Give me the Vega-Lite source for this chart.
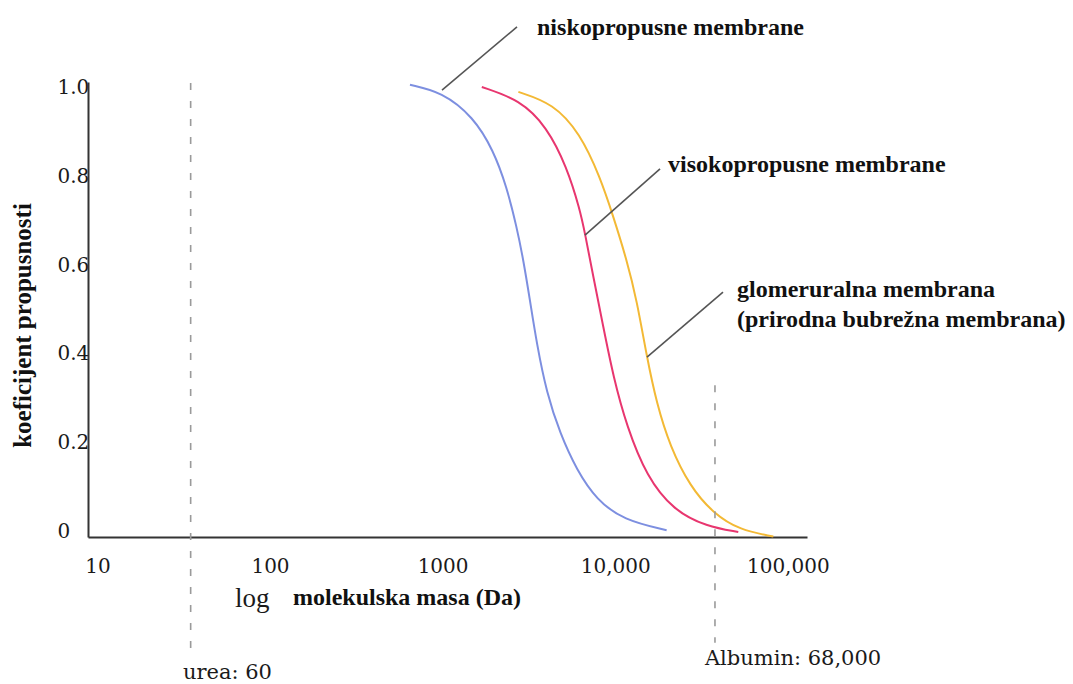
{
  "$schema": "https://vega.github.io/schema/vega-lite/v6.json",
  "width": 719,
  "height": 455,
  "autosize": {"type": "none"},
  "padding": {"left": 88, "top": 82, "right": 266, "bottom": 147},
  "background": "white",
  "config": {
    "view": {"stroke": null},
    "axis": {
      "grid": false,
      "ticks": false,
      "tickSize": 0,
      "domainColor": "#333333",
      "domainWidth": 2,
      "labelFont": "DejaVu Serif",
      "labelFontSize": 20,
      "labelColor": "#1a1a1a"
    }
  },
  "datasets": {
    "curves": [
      {"series": "nisko", "mass": 647, "k": 1.005},
      {"series": "nisko", "mass": 989, "k": 0.989},
      {"series": "nisko", "mass": 1507, "k": 0.933},
      {"series": "nisko", "mass": 1968, "k": 0.858},
      {"series": "nisko", "mass": 2350, "k": 0.776},
      {"series": "nisko", "mass": 2685, "k": 0.686},
      {"series": "nisko", "mass": 2938, "k": 0.611},
      {"series": "nisko", "mass": 3206, "k": 0.521},
      {"series": "nisko", "mass": 3508, "k": 0.424},
      {"series": "nisko", "mass": 4009, "k": 0.312},
      {"series": "nisko", "mass": 4786, "k": 0.222},
      {"series": "nisko", "mass": 5984, "k": 0.139},
      {"series": "nisko", "mass": 7816, "k": 0.072},
      {"series": "nisko", "mass": 11143, "k": 0.027},
      {"series": "nisko", "mass": 19861, "k": 0.004},
      {"series": "visoko", "mass": 1687, "k": 1.0},
      {"series": "visoko", "mass": 2805, "k": 0.971},
      {"series": "visoko", "mass": 4009, "k": 0.911},
      {"series": "visoko", "mass": 5236, "k": 0.821},
      {"series": "visoko", "mass": 6252, "k": 0.724},
      {"series": "visoko", "mass": 6683, "k": 0.671},
      {"series": "visoko", "mass": 7464, "k": 0.574},
      {"series": "visoko", "mass": 8531, "k": 0.461},
      {"series": "visoko", "mass": 9750, "k": 0.349},
      {"series": "visoko", "mass": 11669, "k": 0.237},
      {"series": "visoko", "mass": 15241, "k": 0.124},
      {"series": "visoko", "mass": 21727, "k": 0.049},
      {"series": "visoko", "mass": 33884, "k": 0.012},
      {"series": "visoko", "mass": 51642, "k": 0.0},
      {"series": "glomerul", "mass": 2748, "k": 0.989},
      {"series": "glomerul", "mass": 4375, "k": 0.963},
      {"series": "glomerul", "mass": 6252, "k": 0.896},
      {"series": "glomerul", "mass": 8166, "k": 0.798},
      {"series": "glomerul", "mass": 9750, "k": 0.709},
      {"series": "glomerul", "mass": 11669, "k": 0.611},
      {"series": "glomerul", "mass": 13335, "k": 0.521},
      {"series": "glomerul", "mass": 15241, "k": 0.394},
      {"series": "glomerul", "mass": 17378, "k": 0.289},
      {"series": "glomerul", "mass": 20797, "k": 0.192},
      {"series": "glomerul", "mass": 27164, "k": 0.102},
      {"series": "glomerul", "mass": 36983, "k": 0.042},
      {"series": "glomerul", "mass": 52845, "k": 0.004},
      {"series": "glomerul", "mass": 82414, "k": -0.01}
    ],
    "leaders": [
      {"mass": 992, "k": 0.993, "mass2": 2698, "k2": 1.135},
      {"mass": 6683, "k": 0.667, "mass2": 18182, "k2": 0.816},
      {"mass": 15285, "k": 0.393, "mass2": 42125, "k2": 0.539}
    ],
    "markers": [
      {"name": "urea", "mass": 34.7, "k": 1.009, "k2": -0.272},
      {"name": "albumin", "mass": 37844, "k": 0.33, "k2": -0.249}
    ],
    "boldLabels": [
      {"text": "niskopropusne membrane", "mass": 3524, "k": 1.117},
      {"text": "visokopropusne membrane", "mass": 20230, "k": 0.809},
      {"text": "glomeruralna membrana", "mass": 50780, "k": 0.528},
      {"text": "(prirodna bubrežna membrana)", "mass": 50780, "k": 0.461},
      {"text": "molekulska masa (Da)", "mass": 135.9, "k": -0.164}
    ],
    "logLabel": [
      {"text": "log", "mass": 62.7, "k": -0.1685}
    ],
    "plainLabels": [
      {"text": "urea: 60", "mass": 31.3, "k": -0.33},
      {"text": "Albumin: 68,000", "mass": 33113, "k": -0.299}
    ]
  },
  "layer": [
    {
      "data": {"name": "curves"},
      "mark": {"type": "line", "interpolate": "basis", "strokeWidth": 2},
      "encoding": {
        "x": {
          "field": "mass",
          "type": "quantitative",
          "scale": {"type": "log", "domain": [8.822, 129180], "nice": false},
          "axis": {
            "values": [10, 100, 1000, 10000, 100000],
            "labelExpr": "datum.value >= 10000 ? format(datum.value, ',') : format(datum.value, 'd')",
            "labelPadding": 19,
            "labelFlush": false,
            "labelOverlap": false,
            "title": null
          }
        },
        "y": {
          "field": "k",
          "type": "quantitative",
          "scale": {"domain": [-0.01124, 1.01124], "nice": false, "zero": false},
          "axis": {
            "values": [0, 0.2, 0.4, 0.6, 0.8, 1.0],
            "labelExpr": "datum.value == 0 ? '0' : format(datum.value, '.1f')",
            "labelAlign": "left",
            "labelPadding": 31,
            "labelFlush": false,
            "labelOverlap": false,
            "title": "koeficijent propusnosti",
            "titleFont": "Liberation Serif",
            "titleFontWeight": "bold",
            "titleFontSize": 25,
            "titleColor": "#111111",
            "titleAngle": 270,
            "titleBaseline": "middle",
            "titleX": -66,
            "titleY": 243
          }
        },
        "color": {
          "field": "series",
          "type": "nominal",
          "scale": {"domain": ["nisko", "visoko", "glomerul"], "range": ["#7d8fe0", "#e8366f", "#f3b935"]},
          "legend": null
        },
        "order": {"field": "mass", "type": "quantitative"}
      }
    },
    {
      "data": {"name": "leaders"},
      "mark": {"type": "rule", "color": "#555555", "strokeWidth": 1.6},
      "encoding": {
        "x": {"field": "mass", "type": "quantitative"},
        "y": {"field": "k", "type": "quantitative"},
        "x2": {"field": "mass2"},
        "y2": {"field": "k2"}
      }
    },
    {
      "data": {"name": "markers"},
      "mark": {"type": "rule", "color": "#9a9a9a", "strokeWidth": 1.6, "strokeDash": [7, 11]},
      "encoding": {
        "x": {"field": "mass", "type": "quantitative"},
        "y": {"field": "k", "type": "quantitative"},
        "y2": {"field": "k2"}
      }
    },
    {
      "data": {"name": "boldLabels"},
      "mark": {"type": "text", "align": "left", "baseline": "alphabetic", "font": "Liberation Serif", "fontWeight": "bold", "fontSize": 24, "color": "#111111"},
      "encoding": {
        "x": {"field": "mass", "type": "quantitative"},
        "y": {"field": "k", "type": "quantitative"},
        "text": {"field": "text"}
      }
    },
    {
      "data": {"name": "logLabel"},
      "mark": {"type": "text", "align": "left", "baseline": "alphabetic", "font": "Liberation Serif", "fontSize": 27, "color": "#1a1a1a"},
      "encoding": {
        "x": {"field": "mass", "type": "quantitative"},
        "y": {"field": "k", "type": "quantitative"},
        "text": {"field": "text"}
      }
    },
    {
      "data": {"name": "plainLabels"},
      "mark": {"type": "text", "align": "left", "baseline": "alphabetic", "font": "DejaVu Serif", "fontSize": 21, "color": "#1a1a1a"},
      "encoding": {
        "x": {"field": "mass", "type": "quantitative"},
        "y": {"field": "k", "type": "quantitative"},
        "text": {"field": "text"}
      }
    }
  ]
}
